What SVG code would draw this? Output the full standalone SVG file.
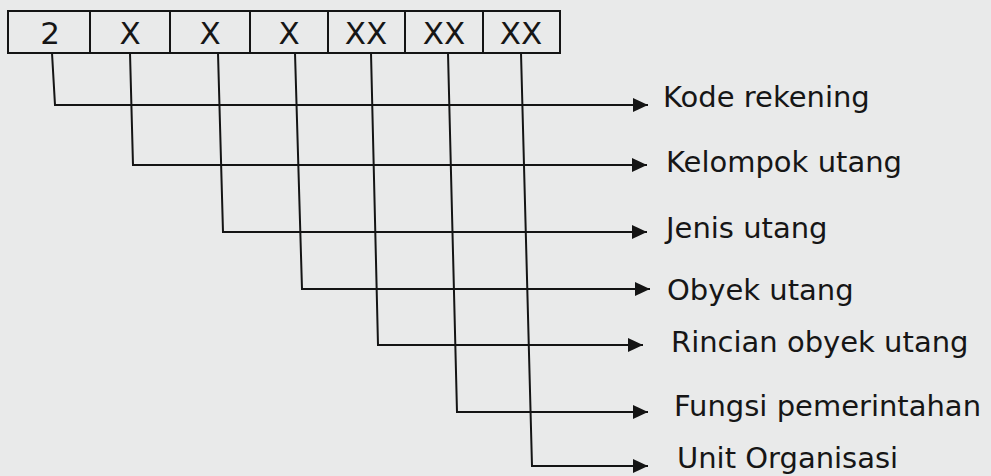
<svg xmlns="http://www.w3.org/2000/svg" width="991" height="476" viewBox="0 0 991 476">
<defs>
<style>
.bg{fill:#e9eaea}
.cell{fill:none;stroke:#141414;stroke-width:2}
.code{font-family:"DejaVu Sans",Verdana,sans-serif;font-size:31px;fill:#161616;text-anchor:middle}
.lbl{font-family:"DejaVu Sans",Verdana,sans-serif;font-size:29px;fill:#161616}
.con{fill:none;stroke:#141414;stroke-width:2}
</style>
<marker id="ah" viewBox="0 0 15 14" refX="15" refY="7" markerWidth="15" markerHeight="14" markerUnits="userSpaceOnUse" orient="auto">
<path d="M0,0 L15,7 L0,14 Z" fill="#141414"/>
</marker>
</defs>
<rect class="bg" x="0" y="0" width="991" height="476"/>
<g id="code-box">
<rect class="cell" x="8" y="11" width="552" height="42"/>
<path class="cell" d="M90,11V53M170,11V53M250,11V53M328,11V53M405,11V53M483,11V53"/>
<text class="code" x="50" y="44">2</text>
<text class="code" x="130" y="44">X</text>
<text class="code" x="210" y="44">X</text>
<text class="code" x="289" y="44">X</text>
<text class="code" x="366" y="44">XX</text>
<text class="code" x="444" y="44">XX</text>
<text class="code" x="521" y="44">XX</text>
</g>
<g id="connectors">
<path class="con" marker-end="url(#ah)" d="M52,53 L55,105 L648,105"/>
<path class="con" marker-end="url(#ah)" d="M130,53 L133,165 L647,165"/>
<path class="con" marker-end="url(#ah)" d="M218,53 L223,232 L647,232"/>
<path class="con" marker-end="url(#ah)" d="M295,53 L302,289 L650,289"/>
<path class="con" marker-end="url(#ah)" d="M371,53 L378,345 L643,345"/>
<path class="con" marker-end="url(#ah)" d="M448,53 L457,412 L648,412"/>
<path class="con" marker-end="url(#ah)" d="M521,53 L532,466 L648,466"/>
</g>
<g id="label-kode"><text class="lbl" x="663" y="107">Kode rekening</text></g>
<g id="label-kelompok"><text class="lbl" x="666" y="172">Kelompok utang</text></g>
<g id="label-jenis"><text class="lbl" x="666" y="238">Jenis utang</text></g>
<g id="label-obyek"><text class="lbl" x="667" y="300">Obyek utang</text></g>
<g id="label-rincian"><text class="lbl" x="671" y="352">Rincian obyek utang</text></g>
<g id="label-fungsi"><text class="lbl" x="674" y="416">Fungsi pemerintahan</text></g>
<g id="label-unit"><text class="lbl" x="677" y="468">Unit Organisasi</text></g>
</svg>
